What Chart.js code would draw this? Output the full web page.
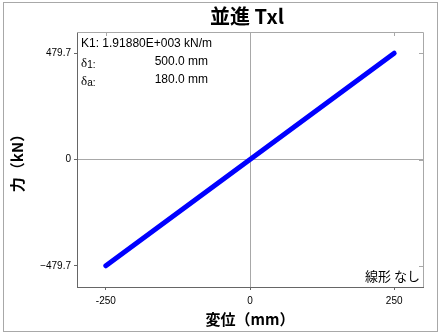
<!DOCTYPE html>
<html>
<head>
<meta charset="utf-8">
<script src="https://cdn.jsdelivr.net/npm/chart.js@4/dist/chart.umd.min.js"></script>
<style>
  html, body { margin: 0; padding: 0; background: #fff; }
  #wrap { position: relative; width: 440px; height: 332px; }
</style>
</head>
<body>
<div id="wrap"><canvas id="c"></canvas></div>
<script>
// Force–displacement of the translational spring (linear, no hysteresis)
const dispMm = [-250, 250];
const forceKn = [-479.7, 479.7];
const xTicks = [-250, 0, 250];
const yTicks = [-479.7, 0, 479.7];
const xLimit = 300;
const yLimit = 575.64;

const titleText = '並進 Txl';
const xTitle = '変位（mm）';
const yTitle = '力（kN）';
const k1Text = 'K1: 1.91880E+003 kN/m';
const delta1Value = '500.0 mm';
const deltaAValue = '180.0 mm';
const modelNote = '線形 なし';

const JP = '"Noto Sans CJK JP", "Noto Sans", sans-serif';
const SANS = '"Liberation Sans", Arial, sans-serif';

const points = dispMm.map((x, i) => ({ x, y: forceKn[i] }));

// frame, mirrored ticks, heading and parameter text
const decor = {
  id: 'decor',
  afterDraw(chart) {
    const { ctx, chartArea: a, scales } = chart;
    ctx.save();
    // outer frame
    ctx.strokeStyle = '#a8a8a8';
    ctx.lineWidth = 1;
    ctx.strokeRect(3.5, 2.5, 434, 329);
    // top and right edges of the plot box
    ctx.beginPath();
    ctx.moveTo(a.left, a.top + 0.5);
    ctx.lineTo(a.right + 0.5, a.top + 0.5);
    ctx.lineTo(a.right + 0.5, a.bottom);
    ctx.stroke();
    // inward ticks on top and right
    ctx.beginPath();
    xTicks.forEach(v => {
      const px = Math.round(scales.x.getPixelForValue(v)) + 0.5;
      ctx.moveTo(px, a.top);
      ctx.lineTo(px, a.top + 4);
    });
    yTicks.forEach(v => {
      const py = Math.round(scales.y.getPixelForValue(v)) + 0.5;
      ctx.moveTo(a.right, py);
      ctx.lineTo(a.right - 4, py);
    });
    ctx.stroke();

    // heading
    ctx.fillStyle = '#000';
    ctx.textAlign = 'center';
    ctx.textBaseline = 'middle';
    ctx.font = 'bold 20px ' + JP;
    ctx.fillText(titleText, 247, 16);

    // parameter block
    const lx = a.left + 4;
    const rx = a.left + 131;
    ctx.textBaseline = 'alphabetic';
    ctx.textAlign = 'left';
    ctx.font = '12px ' + SANS;
    ctx.fillText(k1Text, lx, a.top + 15);

    const deltaRow = (sub, value, base) => {
      ctx.textAlign = 'left';
      ctx.font = '13px "Liberation Serif", "DejaVu Serif", serif';
      ctx.fillText('δ', lx, base);
      const w = ctx.measureText('δ').width;
      ctx.font = '10px ' + SANS;
      ctx.fillText(sub + ':', lx + w, base + 1);
      ctx.font = '12px ' + SANS;
      ctx.textAlign = 'right';
      ctx.fillText(value, rx, base - 2);
    };
    deltaRow('1', delta1Value, a.top + 35);
    deltaRow('a', deltaAValue, a.top + 53);

    // model note
    ctx.textAlign = 'right';
    ctx.textBaseline = 'middle';
    ctx.font = '13px ' + JP;
    ctx.fillText(modelNote, a.right - 3, a.bottom - 11);
    ctx.restore();
  }
};

const gridColor = c => (c.tick && c.tick.value === 0) ? '#a8a8a8' : 'rgba(0,0,0,0)';

new Chart(document.getElementById('c'), {
  type: 'line',
  data: {
    datasets: [{
      data: points,
      borderColor: '#0000ff',
      borderWidth: 5,
      borderCapStyle: 'round',
      pointRadius: 0,
      fill: false,
      tension: 0
    }]
  },
  options: {
    responsive: true,
    maintainAspectRatio: false,
    animation: false,
    events: [],
    layout: { padding: { top: 32, right: 17, left: 0, bottom: 0 } },
    plugins: { legend: { display: false }, title: { display: false }, tooltip: { enabled: false } },
    scales: {
      x: {
        type: 'linear',
        min: -xLimit,
        max: xLimit,
        afterBuildTicks: s => { s.ticks = xTicks.map(v => ({ value: v })); },
        afterFit: s => { s.height = 45; },
        ticks: {
          color: '#000',
          font: { family: SANS, size: 10 },
          padding: 5,
          maxRotation: 0,
          callback: v => String(v)
        },
        grid: { color: gridColor, tickColor: '#666', tickLength: 3, lineWidth: 1 },
        border: { color: '#666', width: 1 },
        title: {
          display: true,
          text: xTitle,
          color: '#000',
          font: { family: JP, size: 15, weight: 'bold' },
          padding: { top: 0, bottom: 4 }
        }
      },
      y: {
        type: 'linear',
        min: -yLimit,
        max: yLimit,
        afterBuildTicks: s => { s.ticks = yTicks.map(v => ({ value: v })); },
        afterFit: s => { s.width = 77; },
        ticks: {
          color: '#000',
          font: { family: SANS, size: 10 },
          padding: 3,
          callback: v => v === 0 ? '0' : (v < 0 ? '\u2212' + Math.abs(v).toFixed(1) : v.toFixed(1))
        },
        grid: { color: gridColor, tickColor: '#666', tickLength: 3, lineWidth: 1 },
        border: { color: '#666', width: 1 },
        title: {
          display: true,
          text: yTitle,
          color: '#000',
          font: { family: JP, size: 15, weight: 'bold' },
          padding: { top: 8, bottom: 0 }
        }
      }
    }
  },
  plugins: [decor]
});
</script>
</body>
</html>
